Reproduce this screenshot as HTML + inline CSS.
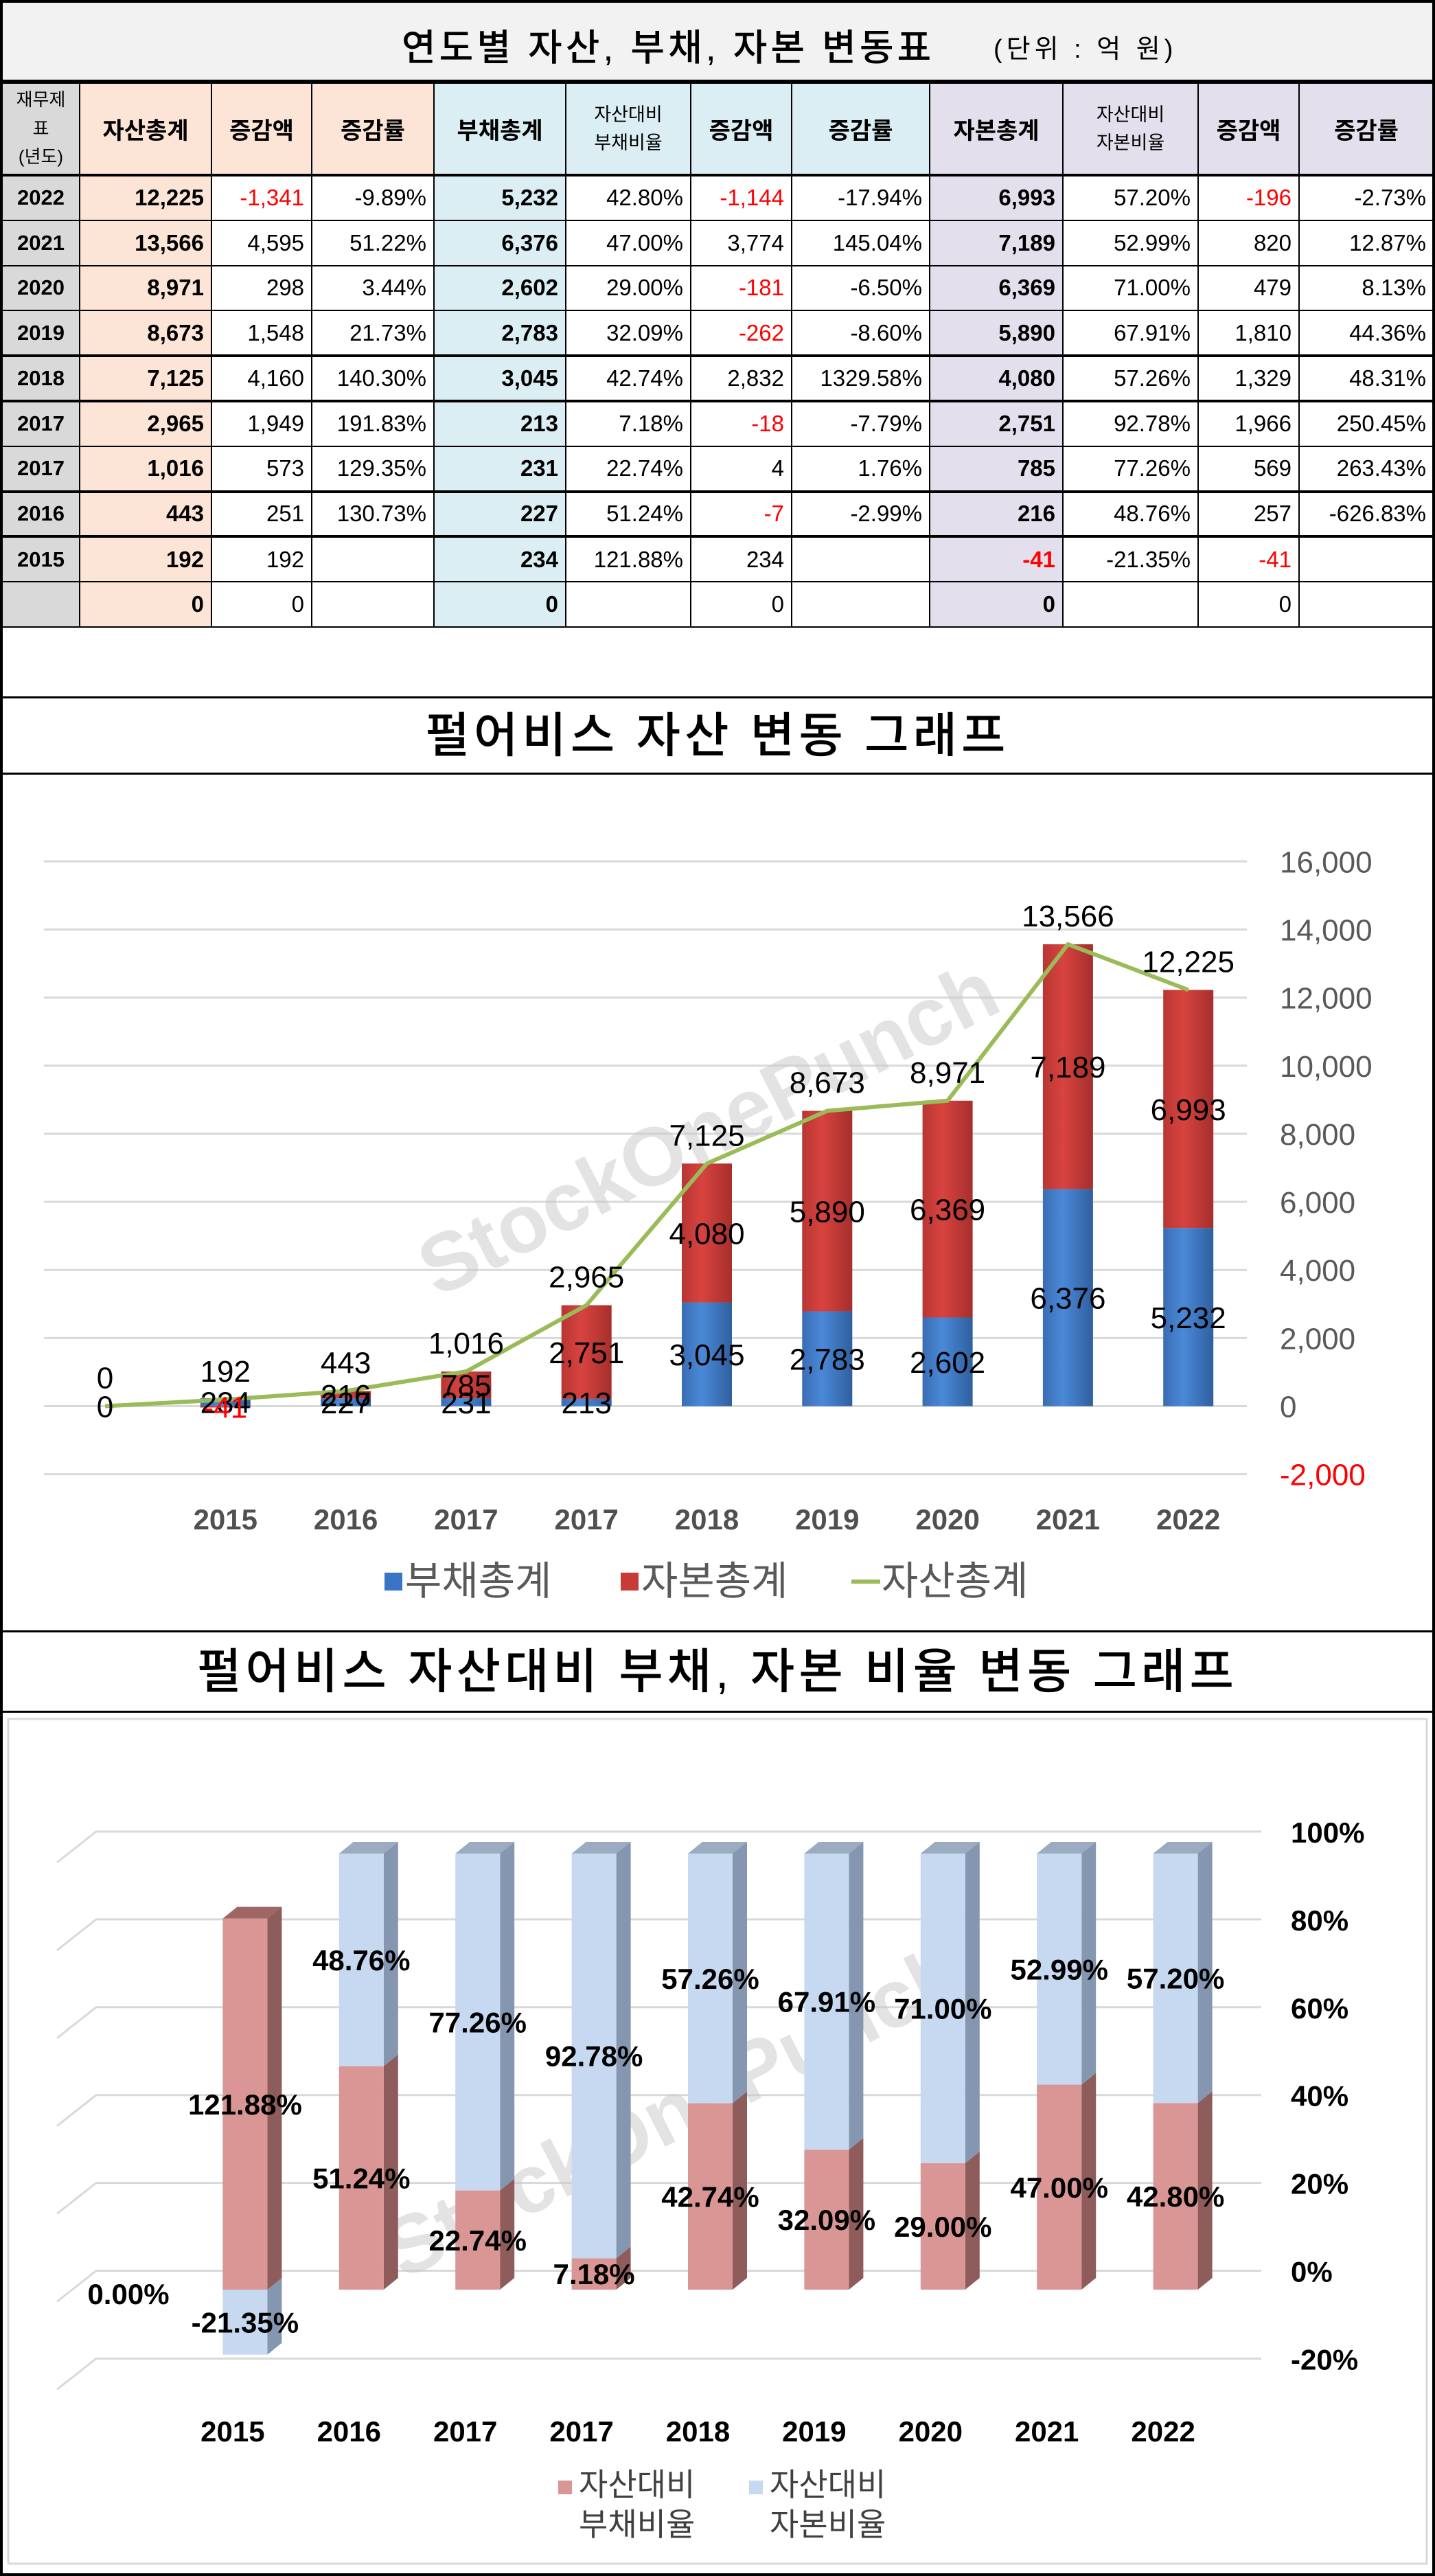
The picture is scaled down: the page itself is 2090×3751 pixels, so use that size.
<!DOCTYPE html>
<html><head><meta charset="utf-8">
<style>
*{margin:0;padding:0;box-sizing:border-box}
body{width:2090px;height:3751px;background:#fff;position:relative;overflow:hidden;font-family:"Liberation Sans","Noto Sans CJK KR",sans-serif}
#frame{position:absolute;left:0;top:0;width:2090px;height:3751px;border:4px solid #000;pointer-events:none;z-index:5}
#ttl{position:absolute;left:0;top:0;width:2090px;height:120px;background:#f2f2f2;border-bottom:4px solid #000}
#ttl .m{position:absolute;left:585px;top:25px;font-size:54px;letter-spacing:5px;font-weight:500}
#ttl .u{position:absolute;left:1447px;top:40px;font-size:38px;letter-spacing:6px}
table{position:absolute;left:2px;top:120px;border-collapse:collapse;table-layout:fixed}
td{border:2px solid #000;font-size:33px;text-align:right;padding-right:10px;height:65.8px;white-space:nowrap;overflow:hidden}
tr.h td{height:134px;text-align:center;padding:0;font-weight:bold;font-size:34px}
tr.h td.s{font-size:27px;font-weight:normal;line-height:1.5}
td.y{background:#d9d9d9;text-align:center;padding:0;font-weight:bold;font-size:31px}
.pe{background:#fce4d6}.bl{background:#daeef3}.lv{background:#e4dfec}
tr:not(.h) td.pe,tr:not(.h) td.bl,tr:not(.h) td.lv{font-weight:bold}
.r{color:#f00}
tr.t td{border-top:4px solid #000}
.box{position:absolute;left:0;width:2090px;border:3px solid #000}
.ct{font-size:70px;text-align:center;letter-spacing:6px;font-weight:500}
</style></head>
<body>
<div id="frame"></div>
<div id="ttl"><span class="m">연도별 자산, 부채, 자본 변동표</span><span class="u">(단위 : 억 원)</span></div>
<table>
<colgroup><col style="width:113px"><col style="width:192px"><col style="width:146px"><col style="width:178px"><col style="width:192px"><col style="width:182px"><col style="width:147px"><col style="width:201px"><col style="width:194px"><col style="width:197px"><col style="width:147px"><col style="width:196px"></colgroup>
<tr class="h"><td class="y s" style="font-size:26px;line-height:1.6">재무제<br>표<br>(년도)</td><td class="pe">자산총계</td><td class="pe">증감액</td><td class="pe">증감률</td><td class="bl">부채총계</td><td class="bl s">자산대비<br>부채비율</td><td class="bl">증감액</td><td class="bl">증감률</td><td class="lv">자본총계</td><td class="lv s">자산대비<br>자본비율</td><td class="lv">증감액</td><td class="lv">증감률</td></tr>
<tr class="t"><td class="y">2022</td><td class="pe">12,225</td><td class="r">-1,341</td><td>-9.89%</td><td class="bl">5,232</td><td>42.80%</td><td class="r">-1,144</td><td>-17.94%</td><td class="lv">6,993</td><td>57.20%</td><td class="r">-196</td><td>-2.73%</td></tr>
<tr><td class="y">2021</td><td class="pe">13,566</td><td>4,595</td><td>51.22%</td><td class="bl">6,376</td><td>47.00%</td><td>3,774</td><td>145.04%</td><td class="lv">7,189</td><td>52.99%</td><td>820</td><td>12.87%</td></tr>
<tr><td class="y">2020</td><td class="pe">8,971</td><td>298</td><td>3.44%</td><td class="bl">2,602</td><td>29.00%</td><td class="r">-181</td><td>-6.50%</td><td class="lv">6,369</td><td>71.00%</td><td>479</td><td>8.13%</td></tr>
<tr><td class="y">2019</td><td class="pe">8,673</td><td>1,548</td><td>21.73%</td><td class="bl">2,783</td><td>32.09%</td><td class="r">-262</td><td>-8.60%</td><td class="lv">5,890</td><td>67.91%</td><td>1,810</td><td>44.36%</td></tr>
<tr class="t"><td class="y">2018</td><td class="pe">7,125</td><td>4,160</td><td>140.30%</td><td class="bl">3,045</td><td>42.74%</td><td>2,832</td><td>1329.58%</td><td class="lv">4,080</td><td>57.26%</td><td>1,329</td><td>48.31%</td></tr>
<tr class="t"><td class="y">2017</td><td class="pe">2,965</td><td>1,949</td><td>191.83%</td><td class="bl">213</td><td>7.18%</td><td class="r">-18</td><td>-7.79%</td><td class="lv">2,751</td><td>92.78%</td><td>1,966</td><td>250.45%</td></tr>
<tr><td class="y">2017</td><td class="pe">1,016</td><td>573</td><td>129.35%</td><td class="bl">231</td><td>22.74%</td><td>4</td><td>1.76%</td><td class="lv">785</td><td>77.26%</td><td>569</td><td>263.43%</td></tr>
<tr class="t"><td class="y">2016</td><td class="pe">443</td><td>251</td><td>130.73%</td><td class="bl">227</td><td>51.24%</td><td class="r">-7</td><td>-2.99%</td><td class="lv">216</td><td>48.76%</td><td>257</td><td>-626.83%</td></tr>
<tr class="t"><td class="y">2015</td><td class="pe">192</td><td>192</td><td></td><td class="bl">234</td><td>121.88%</td><td>234</td><td></td><td class="lv r">-41</td><td>-21.35%</td><td class="r">-41</td><td></td></tr>
<tr><td class="y"></td><td class="pe">0</td><td>0</td><td></td><td class="bl">0</td><td></td><td>0</td><td></td><td class="lv">0</td><td></td><td>0</td><td></td></tr>
</table>

<div class="box ct" style="top:1014px;height:114px;line-height:108px">펄어비스 자산 변동 그래프</div>
<div class="box" style="top:1125px;height:1252px"></div>
<div class="box ct" style="top:2374px;height:120px;line-height:114px">펄어비스 자산대비 부채, 자본 비율 변동 그래프</div>
<div class="box" style="top:2491px;height:1260px"></div>

<svg id="c" width="2090" height="3751" style="position:absolute;left:0;top:0" xmlns="http://www.w3.org/2000/svg" font-family="Liberation Sans, Noto Sans CJK KR, sans-serif"></svg>

<script>
const cats = ['', '2015','2016','2017','2017','2018','2019','2020','2021','2022'];
const debtTotal = [0,234,227,231,213,3045,2783,2602,6376,5232];
const equityTotal = [0,-41,216,785,2751,4080,5890,6369,7189,6993];
const assetTotal = [0,192,443,1016,2965,7125,8673,8971,13566,12225];
const ticks1 = [-2000,0,2000,4000,6000,8000,10000,12000,14000,16000];
const debtRatio = [0,121.88,51.24,22.74,7.18,42.74,32.09,29.00,47.00,42.80];
const equityRatio = [0,-21.35,48.76,77.26,92.78,57.26,67.91,71.00,52.99,57.20];
const ticks2 = [-20,0,20,40,60,80,100];

const NS='http://www.w3.org/2000/svg';
const svg=document.getElementById('c');
function mk(tag,at,parent){const e=document.createElementNS(NS,tag);for(const k in at)e.setAttribute(k,at[k]);(parent||svg).appendChild(e);return e;}
function fmt(v){return v.toLocaleString('en-US');}

const defs=mk('defs',{});
defs.innerHTML='<linearGradient id="gb" x1="0" x2="1"><stop offset="0" stop-color="#3a6db3"/><stop offset="0.4" stop-color="#4a89d8"/><stop offset="1" stop-color="#2f5f9e"/></linearGradient><linearGradient id="gr" x1="0" x2="1"><stop offset="0" stop-color="#b83633"/><stop offset="0.4" stop-color="#d8433f"/><stop offset="1" stop-color="#a52f2c"/></linearGradient>';

// ===== Chart 1 =====
const y1=v=>2047.5-v*0.049575;
const x1=i=>153+i*175.3;
const BW=73;
ticks1.forEach(t=>{
  const g=mk('line',{x1:64,x2:1816,y1:y1(t),y2:y1(t),stroke:'#d9d9d9','stroke-width':3});
  
  
  const tx=mk('text',{x:1864,y:y1(t)+16,'font-size':44,fill:t<0?'#f00':'#595959'});
  tx.textContent=fmt(t);
  
  
});
const wm1=mk('text',{x:1050,y:1680,'font-size':120,'font-weight':'bold',fill:'#c8c8c8','fill-opacity':0.5,'text-anchor':'middle',transform:'rotate(-27 1050 1680)'});
wm1.textContent='StockOnePunch';



cats.forEach((c,i)=>{
  const cx=x1(i);
  const d=debtTotal[i], e=equityTotal[i];
  if(d!==0){
    const r=mk('rect',{x:cx-BW/2,y:Math.min(y1(0),y1(d)),width:BW,height:Math.abs(y1(d)-y1(0)),fill:'url(#gb)'});
    
    
  }
  if(e!==0){
    const base=e>0?Math.max(d,0):0;
    const r=mk('rect',{x:cx-BW/2,y:Math.min(y1(base),y1(base+e)),width:BW,height:Math.abs(y1(base+e)-y1(base)),fill:'url(#gr)'});
    
    
  }
});
let pts=assetTotal.map((v,i)=>x1(i)+','+y1(v)).join(' ');
const ln=mk('polyline',{points:pts,fill:'none',stroke:'#9bbb59','stroke-width':6,'stroke-linejoin':'round'});


cats.forEach((c,i)=>{
  const cx=x1(i);
  const d=debtTotal[i], e=equityTotal[i];
  const base=e>0?Math.max(d,0):0;
  const l1=mk('text',{x:cx,y:y1(d/2)+16,'font-size':44,'text-anchor':'middle',fill:'#000'});
  l1.textContent=fmt(d);
  
  
  if(i>0){
    const l2=mk('text',{x:cx,y:y1(base+e/2)+16,'font-size':44,'text-anchor':'middle',fill:e<0?'#f00':'#000'});
    l2.textContent=fmt(e);
    
    
  }
  const l3=mk('text',{x:cx,y:y1(assetTotal[i])-26,'font-size':44,'text-anchor':'middle',fill:'#000'});
  l3.textContent=fmt(assetTotal[i]);
  
  
  if(c){
    const cl=mk('text',{x:cx,y:2227,'font-size':42,'font-weight':'bold','text-anchor':'middle',fill:'#505050'});
    cl.textContent=c;
    
    
  }
});
[[560,'#3a74c4','부채총계'],[904,'#c83a37','자본총계']].forEach(([x,col,t])=>{
  const s=mk('rect',{x:x,y:2290,width:26,height:26,fill:col});
  
  
  const tx=mk('text',{x:x+30,y:2322,'font-size':58,fill:'#595959'});
  tx.textContent=t;
  
  
});
const ll=mk('line',{x1:1240,x2:1282,y1:2303,y2:2303,stroke:'#9bbb59','stroke-width':6});


const lt=mk('text',{x:1284,y:2322,'font-size':58,fill:'#595959'});
lt.textContent='자산총계';



// ===== Chart 2 =====
const inner=mk('rect',{x:12,y:2503,width:2066,height:1230,fill:'none',stroke:'#d9d9d9','stroke-width':3});


const yb=p=>3306.5-p*6.395;
const yf=p=>3334-p*6.35;
const xf=i=>155+i*169.4;
const W2=65, DX=21, DY=17;
ticks2.forEach(t=>{
  const y=yb(t);
  const g=mk('polyline',{points:`83,${y+45} 140,${y} 1837,${y}`,fill:'none',stroke:'#d9d9d9','stroke-width':3});
  
  
  const tx=mk('text',{x:1880,y:y+16,'font-size':42,'font-weight':'bold',fill:'#000'});
  tx.textContent=t+'%';
  
  
});
function seg(x,p0,p1,front,side,top,name,showTop){
  const ya=yf(Math.max(p0,p1)), yb2=yf(Math.min(p0,p1));
  const s=mk('polygon',{points:`${x+W2},${ya} ${x+W2+DX},${ya-DY} ${x+W2+DX},${yb2-DY} ${x+W2},${yb2}`,fill:side});
  
  
  if(showTop){
    const t=mk('polygon',{points:`${x},${ya} ${x+DX},${ya-DY} ${x+W2+DX},${ya-DY} ${x+W2},${ya}`,fill:top});
    
    
  }
  const f=mk('rect',{x:x,y:ya,width:W2,height:yb2-ya,fill:front});
  
  
}
const wm2=mk('text',{x:1000,y:3110,'font-size':120,'font-weight':'bold',fill:'#c8c8c8','fill-opacity':0.5,'text-anchor':'middle',transform:'rotate(-27 1000 3110)'});
wm2.textContent='StockOnePunch';


cats.forEach((c,i)=>{
  const d=debtRatio[i], e=equityRatio[i];
  const tot=Math.abs(d)+Math.abs(e);
  const x=xf(i);
  if(tot===0){
    const z=mk('text',{x:187,y:3355,'font-size':42,'font-weight':'bold','text-anchor':'middle',fill:'#000'});
    z.textContent='0.00%';
    
    
    return;
  }
  const pd=d/tot*100, pe=e/tot*100;
  if(e>=0){
    seg(x,0,pd,'#d99694','#8e5c5b','#9e6664','debt-ratio-bar',false);
    seg(x,pd,pd+pe,'#c6d9f1','#8496b0','#9bacc0','equity-ratio-bar',true);
  } else {
    seg(x,pe,0,'#c6d9f1','#8496b0','#9bacc0','equity-ratio-bar',false);
    seg(x,0,pd,'#d99694','#8e5c5b','#9e6664','debt-ratio-bar',true);
  }
  const cx=x+W2/2;
  const lb1=mk('text',{x:cx,y:yf(pd/2)+15,'font-size':42,'font-weight':'bold','text-anchor':'middle',fill:'#000'});
  lb1.textContent=d.toFixed(2)+'%';
  
  
  const ec=e>=0?pd+pe/2:pe/2;
  const lb2=mk('text',{x:cx,y:yf(ec)+15,'font-size':42,'font-weight':'bold','text-anchor':'middle',fill:'#000'});
  lb2.textContent=e.toFixed(2)+'%';
  
  
  const cl=mk('text',{x:cx-18,y:3555,'font-size':42,'font-weight':'bold','text-anchor':'middle',fill:'#000'});
  cl.textContent=c;
  
  
});
[[813,'#d99694','부채비율'],[1091,'#c6d9f1','자본비율']].forEach(([x,col,t2])=>{
  const s=mk('rect',{x:x,y:3612,width:20,height:20,fill:col});
  
  
  const tx=mk('text',{x:x+30,y:3634,'font-size':46,fill:'#404040'});
  tx.textContent='자산대비';
  
  
  const tx2=mk('text',{x:x+30,y:3692,'font-size':46,fill:'#404040'});
  tx2.textContent=t2;
  
  
});
</script>
</body></html>
